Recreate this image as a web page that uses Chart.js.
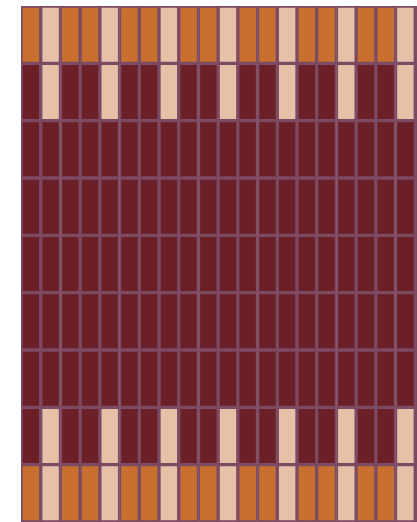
<!DOCTYPE html>
<html>
<head>
<meta charset="utf-8">
<script src="https://cdn.jsdelivr.net/npm/chart.js@4.4.1/dist/chart.umd.min.js"></script>
<style>
  html, body { margin: 0; padding: 0; background: #fff; overflow: hidden; }
  #wrap { position: relative; width: 440px; height: 522px; }
</style>
</head>
<body>
<div id="wrap"><canvas id="grid"></canvas></div>
<script>
// colunas e linhas do mapa
const columns = ['1','2','3','4','5','6','7','8','9','10','11','12','13','14','15','16','17','18','19','20','21'];
const rowNames = ['r1','r2','r3','r4','r5','r6','r7','r8','r9'];

// nivel de cada celula: 0 = escuro, 1 = laranja, 2 = claro
const rowEdge  = [1,2,1,1,2,1,1,2,1,1,2,1,1,2,1,1,2,1,1,2,1];
const rowInner = [0,2,0,0,2,0,0,2,0,0,2,0,0,2,0,0,2,0,0,2,0];
const rowMid   = [0,0,0,0,0,0,0,0,0,0,0,0,0,0,0,0,0,0,0,0,0];
const rows = [rowEdge, rowInner, rowMid, rowMid, rowMid, rowMid, rowMid, rowInner, rowEdge];

const levelColors = ['#6b1f26', '#c8702f', '#e7c1a7'];

document.addEventListener('DOMContentLoaded', function() {
    // cada linha vira um dataset empilhado de altura 1 (de baixo para cima)
    const datasets = rows.slice().reverse().map((row, i) => ({
        label: rowNames[rows.length - 1 - i],
        data: row.map(() => 1),
        backgroundColor: row.map(v => levelColors[v]),
        borderColor: '#7d4a63',
        borderWidth: 2,
        borderSkipped: false,
        barPercentage: 1,
        categoryPercentage: 1
    }));

    new Chart(document.getElementById('grid').getContext('2d'), {
        type: 'bar',
        data: { labels: columns, datasets: datasets },
        options: {
            responsive: true,
            maintainAspectRatio: false,
            animation: false,
            layout: { padding: { left: 21, top: 6, right: 5, bottom: 0 } },
            plugins: { legend: { display: false }, tooltip: { enabled: false } },
            scales: {
                x: { stacked: true, display: false },
                y: { stacked: true, display: false, min: 0, max: rows.length }
            }
        }
    });
});
</script>
</body>
</html>
